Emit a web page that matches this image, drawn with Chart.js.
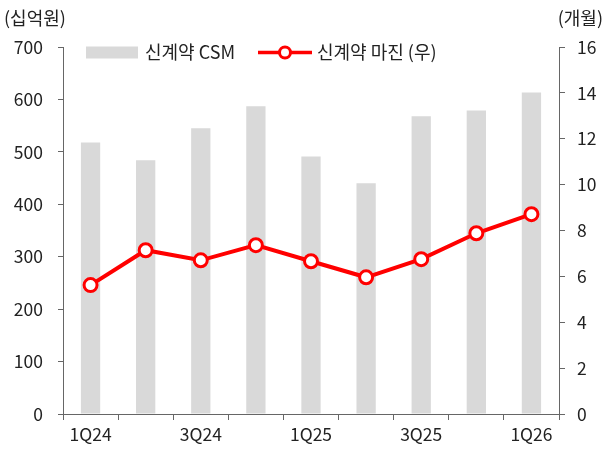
<!DOCTYPE html>
<html>
<head>
<meta charset="utf-8">
<script src="https://cdn.jsdelivr.net/npm/chart.js@4"></script>
<style>
  body { margin: 0; background: #fff; }
  #wrap { width: 606px; height: 457px; }
</style>
</head>
<body>
<div id="wrap"><canvas id="chart" width="606" height="457"></canvas></div>
<script>
const quarters = ['1Q24', '2Q24', '3Q24', '4Q24', '1Q25', '2Q25', '3Q25', '4Q25', '1Q26'];
const csm = [518, 484, 545, 587, 491, 440, 568, 579, 613];          // 십억원
const margin = [5.62, 7.14, 6.7, 7.36, 6.66, 5.96, 6.75, 7.88, 8.71]; // 개월
const leftTicks = [0, 100, 200, 300, 400, 500, 600, 700];
const rightTicks = [0, 2, 4, 6, 8, 10, 12, 14, 16];

const FONT = "'Noto Sans CJK KR', 'Noto Sans', sans-serif";
const axisColor = '#666';
const textColor = '#222';

// 축 단위와 범례를 직접 그림
const extras = {
    id: 'extras',
    afterDraw(chart) {
        const ctx = chart.ctx;
        ctx.save();
        ctx.font = '18px ' + FONT;
        ctx.fillStyle = textColor;
        ctx.textBaseline = 'middle';
        ctx.textAlign = 'left';
        ctx.fillText('(십억원)', 4, 18);
        ctx.textAlign = 'right';
        ctx.fillText('(개월)', 603, 18);

        // 범례
        ctx.textAlign = 'left';
        const y = 52.5;
        ctx.fillStyle = '#d9d9d9';
        ctx.fillRect(86, y - 6, 52, 12);
        ctx.fillStyle = textColor;
        ctx.fillText('신계약 CSM', 145, y);

        ctx.strokeStyle = '#ff0000';
        ctx.lineWidth = 3.5;
        ctx.beginPath();
        ctx.moveTo(258, y);
        ctx.lineTo(312, y);
        ctx.stroke();
        ctx.beginPath();
        ctx.arc(285, y, 5.5, 0, Math.PI * 2);
        ctx.fillStyle = '#fff';
        ctx.fill();
        ctx.lineWidth = 3;
        ctx.stroke();
        ctx.fillStyle = textColor;
        ctx.fillText('신계약 마진 (우)', 317, y);
        ctx.restore();
    }
};

const ctx = document.getElementById('chart').getContext('2d');
new Chart(ctx, {
    data: {
        labels: quarters,
        datasets: [
            {
                type: 'line',
                label: '신계약 마진 (우)',
                data: margin,
                yAxisID: 'y2',
                borderColor: '#ff0000',
                borderWidth: 4,
                pointRadius: 6.5,
                pointBorderWidth: 3,
                pointBackgroundColor: '#fff',
                pointBorderColor: '#ff0000',
                tension: 0,
                order: 0
            },
            {
                type: 'bar',
                label: '신계약 CSM',
                data: csm,
                yAxisID: 'y',
                backgroundColor: '#d9d9d9',
                barPercentage: 0.35,
                categoryPercentage: 1,
                order: 1
            }
        ]
    },
    options: {
        responsive: false,
        animation: false,
        layout: { padding: { top: 47, left: 0, right: 0, bottom: 8 } },
        plugins: { legend: { display: false }, tooltip: { enabled: false } },
        scales: {
            x: {
                offset: true,
                grid: { offset: true, drawOnChartArea: false, tickLength: 6, color: axisColor },
                border: { color: axisColor },
                ticks: {
                    color: textColor,
                    font: { family: FONT, size: 17.5 },
                    maxRotation: 0,
                    autoSkip: false,
                    padding: 4,
                    callback: (v, i) => (i % 2 === 0 ? quarters[i] : '')
                }
            },
            y: {
                position: 'left',
                min: 0, max: 700,
                afterBuildTicks: s => { s.ticks = leftTicks.map(v => ({ value: v })); },
                afterFit: s => { s.width = 63; },
                grid: { drawOnChartArea: false, tickLength: 5, color: axisColor },
                border: { color: axisColor },
                ticks: { color: textColor, font: { family: FONT, size: 17.5 }, padding: 15 }
            },
            y2: {
                position: 'right',
                min: 0, max: 16,
                afterBuildTicks: s => { s.ticks = rightTicks.map(v => ({ value: v })); },
                afterFit: s => { s.width = 47; },
                grid: { drawOnChartArea: false, tickLength: 6, color: axisColor },
                border: { color: axisColor },
                ticks: { color: textColor, font: { family: FONT, size: 17.5 }, padding: 12 }
            }
        }
    },
    plugins: [extras]
});
</script>
</body>
</html>
